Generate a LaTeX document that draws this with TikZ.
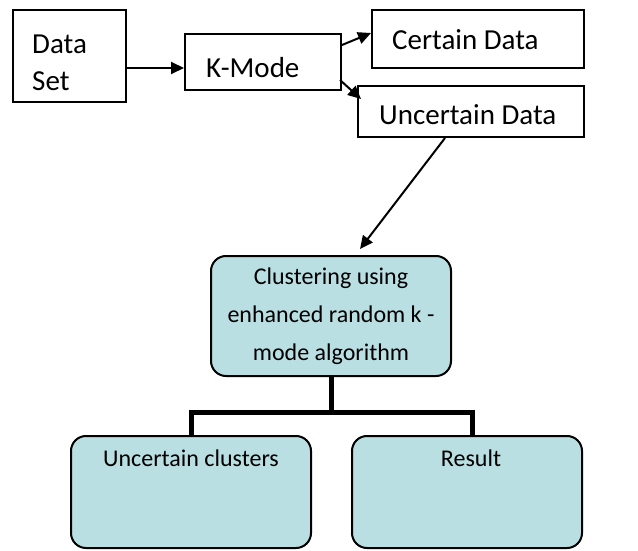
\documentclass[tikz,border=0pt]{standalone}
\usepackage{fontspec}
\setmainfont{Carlito}
\usetikzlibrary{arrows.meta}
\definecolor{boxfill}{HTML}{B9DFE3}
\tikzset{
  plain/.style={draw=black, line width=2pt, rectangle, inner sep=0pt},
  soft/.style={draw=black, line width=2pt, fill=boxfill, rounded corners=15pt, inner sep=0pt},
  bigtxt/.style={font=\fontsize{29}{37}\selectfont, inner sep=0pt, align=left},
  smalltxt/.style={font=\fontsize{24}{38}\selectfont, inner sep=0pt, align=center},
  flow/.style={line width=2pt, -{Triangle[length=13pt,width=12pt]}},
  bus/.style={line width=5pt}
}
\begin{document}
\begin{tikzpicture}[x=1pt,y=-1pt]
\useasboundingbox (0,0) rectangle (638,551);

% top row: plain rectangles
\node[plain, minimum width=113pt, minimum height=92pt,
      label={[bigtxt,anchor=west,xshift=20pt,yshift=-7pt]west:Data\\Set}]
      (ds) at (69.5,56) {};
\node[plain, minimum width=156pt, minimum height=56pt,
      label={[bigtxt,anchor=west,xshift=22pt,yshift=-6pt]west:K-Mode}]
      (km) at (263,62) {};
\node[plain, minimum width=212pt, minimum height=58pt,
      label={[bigtxt,anchor=west,xshift=21pt,yshift=-1pt]west:Certain Data}]
      (cd) at (478,39) {};
\node[plain, minimum width=226pt, minimum height=51pt,
      label={[bigtxt,anchor=west,xshift=22pt,yshift=-3pt]west:Uncertain Data}]
      (ud) at (471,111.5) {};

% clustering stage and its two outputs
\node[soft, smalltxt, minimum width=240pt, minimum height=120pt]
      (clu) at (331,316) {Clustering using\\enhanced random k -\\mode algorithm};
\node[soft, minimum width=240pt, minimum height=112pt,
      label={[smalltxt,anchor=north,yshift=-15pt]north:Uncertain clusters}]
      (uc) at (191,492) {};
\node[soft, minimum width=230pt, minimum height=112pt,
      label={[smalltxt,anchor=north,xshift=4pt,yshift=-15pt]north:Result}]
      (res) at (467,492) {};

% arrows
\draw[flow] ([yshift=-12pt]ds.east) -- ([yshift=-6pt]km.west);
\draw[flow] ([yshift=17pt]km.east) -- ([yshift=6pt]cd.west);
\draw[flow] ([xshift=-2pt,yshift=-18pt]km.east) -- ([xshift=4pt,yshift=-14pt]ud.north west);
\draw[flow] ([xshift=-26pt]ud.south) -- ([xshift=29pt,yshift=6pt]clu.north);

% branching connector
\draw[bus] (clu.south) -- ++(0,35) coordinate (j);
\draw[bus] (uc.north) |- (j) -| ([xshift=5pt]res.north);
\end{tikzpicture}
\end{document}
